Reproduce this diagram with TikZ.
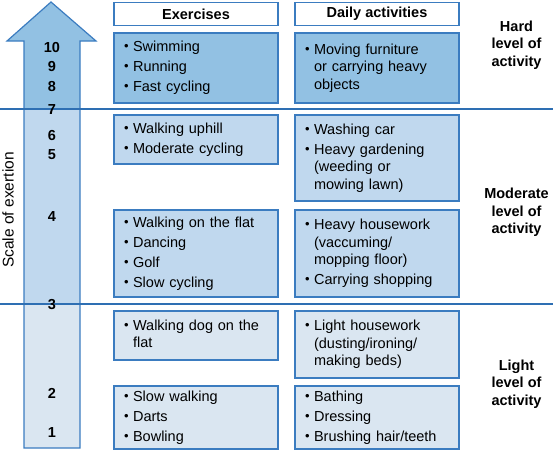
\documentclass[tikz,border=0pt]{standalone}
\usepackage{fontspec}
\setmainfont{Liberation Sans}
\usetikzlibrary{positioning}
\definecolor{Edge}{HTML}{3B7CC0}
\definecolor{Rule}{HTML}{2E6FB3}
\definecolor{HardFill}{HTML}{92C1E3}
\definecolor{ModFill}{HTML}{C0D8EE}
\definecolor{LightFill}{HTML}{DAE6F1}
\newcommand{\blist}[1]{\begin{tabular}{@{}l@{\hspace{4.5pt}}l@{}}#1\end{tabular}}
\newcommand{\bl}{\raisebox{1pt}{\fontsize{13}{10}\selectfont\textbullet}}

\begin{document}
\begin{tikzpicture}[x=1pt,y=-1pt,
    bx/.style={draw=Edge,line width=1.2pt,minimum width=164pt,inner sep=0pt,text width=144pt,align=left,font=\fontsize{14.5}{17.5}\selectfont},
    hd/.style={draw=Edge,line width=1.2pt,fill=white,minimum width=164pt,minimum height=23pt,inner sep=0pt,font=\fontsize{14.5}{17.5}\selectfont\bfseries},
    lvl/.style={align=center,font=\fontsize{14.5}{17.5}\selectfont\bfseries},
    num/.style={inner sep=0pt,font=\fontsize{14.5}{17}\selectfont\bfseries},
    ln/.style={draw=Rule,line width=1.2pt}
  ]
    \useasboundingbox (0,0) rectangle (553,453);
    % scale arrow
    \begin{scope}
      \clip (51,2) -- (96,41) -- (80,41) -- (80,448) -- (24,448) -- (24,41) -- (7,41) -- cycle;
      \fill[HardFill] (0,0) rectangle (100,109);
      \fill[ModFill] (0,109) rectangle (100,304);
      \fill[LightFill] (0,304) rectangle (100,450);
    \end{scope}
    \draw[Edge,line width=1.2pt] (51,2) -- (96,41) -- (80,41) -- (80,448) -- (24,448) -- (24,41) -- (7,41) -- cycle;
    \node[rotate=90,font=\fontsize{15.5}{17}\selectfont] (scale) at (8,210) {Scale of exertion};
    \draw[ln] (0,109) -- (553,109);
    \draw[ln] (0,304) -- (553,304);
    \foreach \n/\y in {10/48,9/67,8/87,7/110,6/136,5/155,4/217,3/305,2/393,1/433}
      \node[num] (n\n) at (52,\y) {\n};

    \node[hd] (hEx) at (196,14) {Exercises};
    \node[hd] (hDa) at (377,14) {Daily activities};

    \node[bx,fill=HardFill,minimum height=70pt] (ex1) at (196,68) {\blist{\bl & Swimming\\[2.5pt] \bl & Running\\[2.5pt] \bl & Fast cycling}};
    \node[bx,fill=HardFill,minimum height=70pt] (da1) at (377,68) {\blist{\bl & Moving furniture\\ & or carrying heavy\\ & objects}};

    \node[bx,fill=ModFill,minimum height=49pt] (ex2) at (196,139.5) {\blist{\bl & Walking uphill\\[2.5pt] \bl & Moderate cycling}};
    \node[bx,fill=ModFill,minimum height=86pt] (da2) at (377,158) {\blist{\bl & Washing car\\[2.5pt] \bl & Heavy gardening\\ & (weeding or\\ & mowing lawn)}};

    \node[bx,fill=ModFill,minimum height=87pt] (ex3) at (196,253.5) {\blist{\bl & Walking on the flat\\[2.5pt] \bl & Dancing\\[2.5pt] \bl & Golf\\[2.5pt] \bl & Slow cycling}};
    \node[bx,fill=ModFill,minimum height=87pt] (da3) at (377,253.5) {\blist{\bl & Heavy housework\\ & (vaccuming/\\ & mopping floor)\\[2.5pt] \bl & Carrying shopping}};

    \node[bx,fill=LightFill,minimum height=49pt] (ex4) at (196,335.5) {\blist{\bl & Walking dog on the\\ & flat}};
    \node[bx,fill=LightFill,minimum height=67pt] (da4) at (377,344.5) {\blist{\bl & Light housework\\ & (dusting/ironing/\\ & making beds)}};

    \node[bx,fill=LightFill,minimum height=63pt] (ex5) at (196,417.5) {\blist{\bl & Slow walking\\[2.5pt] \bl & Darts\\[2.5pt] \bl & Bowling}};
    \node[bx,fill=LightFill,minimum height=63pt] (da5) at (377,417.5) {\blist{\bl & Bathing\\[2.5pt] \bl & Dressing\\[2.5pt] \bl & Brushing hair/teeth}};

    \node[lvl] (hard) at (516.5,45) {Hard\\level of\\activity};
    \node[lvl] (mod) at (516.5,212.5) {Moderate\\level of\\activity};
    \node[lvl] (light) at (516.5,384) {Light\\level of\\activity};
  \end{tikzpicture}
\end{document}
